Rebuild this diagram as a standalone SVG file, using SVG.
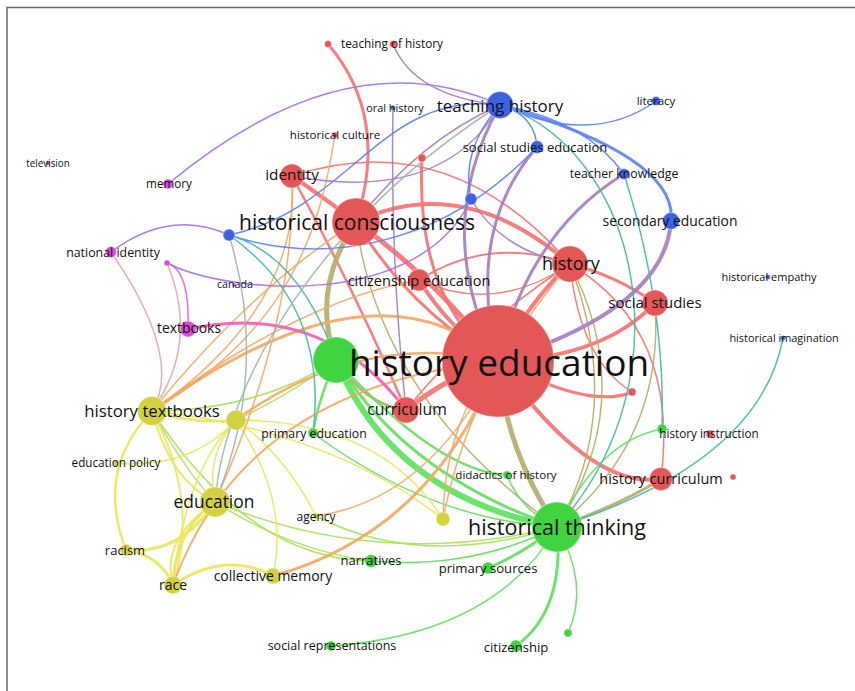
<svg xmlns="http://www.w3.org/2000/svg" width="855" height="691" viewBox="0 0 855 691">
<style>
.e{fill:none;stroke-linecap:round;opacity:0.92}
.r{stroke:#f87272}.o{stroke:#b5ae6c}.g{stroke:#5de35d}.lg{stroke:#a6e35a}.y{stroke:#ebe65a}
.or{stroke:#f5a864}.p{stroke:#a77ebf}.v{stroke:#a36ef5}.b{stroke:#5b82f2}.t{stroke:#45b8a8}
.gr{stroke:#a2b5b0}.pk{stroke:#f35fb3}.sa{stroke:#eda4a4}.m{stroke:#e060f0}
.w1{stroke-width:1.5}.w2{stroke-width:2}.w25{stroke-width:2.5}.w3{stroke-width:3}.w4{stroke-width:4}.w5{stroke-width:5}.w6{stroke-width:6}
.nr{fill:#e45757}.ng{fill:#41d441}.nb{fill:#3d62e0}.ny{fill:#d4d140}.nm{fill:#d64cd6}
circle{stroke:#ffffff;stroke-opacity:0.3;stroke-width:1.5}
text{font-family:"Open Sans","DejaVu Sans",sans-serif;fill:#111;text-anchor:middle}
</style>
<rect width="855" height="691" fill="#ffffff"/>
<path d="M7 691 V7.5 H855" fill="none" stroke="#666" stroke-width="1.5"/>
<g id="connectors">
<path class="e r w3" d="M328 44 Q390 117 356 222"/>
<path class="e r w4" d="M292 176 Q320 195 356 222"/>
<path class="e r w1" d="M292 176 Q449 124 570 264"/>
<path class="e r w25" d="M292 176 Q352 285 406 410"/>
<path class="e r w5" d="M356 222 Q437 280 498 361"/>
<path class="e r w3" d="M356 222 Q410 310 498 361"/>
<path class="e r w4" d="M356 222 Q463 171 570 264"/>
<path class="e r w3" d="M422 158 Q415 300 498 361"/>
<path class="e r w4" d="M570 264 Q530 300 498 361"/>
<path class="e r w3" d="M570 264 Q615 275 655 303"/>
<path class="e r w2" d="M419 280 Q490 235 570 264"/>
<path class="e r w1" d="M419 280 Q495 315 570 264"/>
<path class="e r w4" d="M419 280 Q450 330 498 361"/>
<path class="e r w1" d="M570 264 Q580 360 632 392"/>
<path class="e r w1" d="M570 264 Q680 330 661 479"/>
<path class="e r w4" d="M655 303 Q603 358 498 361"/>
<path class="e r w3" d="M498 361 Q590 410 632 392"/>
<path class="e r w4" d="M498 361 Q590 490 661 479"/>
<path class="e r w5" d="M498 361 Q450 375 406 410"/>
<path class="e r w1" d="M570 264 Q470 330 406 410"/>
<path class="e o w5" d="M356 222 Q310 290 336 360"/>
<path class="e o w5" d="M498 361 Q505 450 557 527"/>
<path class="e o w3" d="M336 360 Q365 405 406 410"/>
<path class="e o w1" d="M356 222 Q380 400 557 527"/>
<path class="e o w1" d="M570 264 Q640 400 557 527"/>
<path class="e o w1" d="M570 264 Q625 410 557 527"/>
<path class="e o w1" d="M655 303 Q665 440 557 527"/>
<path class="e o w3" d="M557 527 Q620 505 661 479"/>
<path class="e g w6" d="M336 360 Q393 497 557 527"/>
<path class="e g w3" d="M336 360 Q405 475 557 527"/>
<path class="e g w25" d="M336 360 Q438 472 507 475"/>
<path class="e g w25" d="M336 360 Q318 400 313 433"/>
<path class="e g w3" d="M557 527 Q520 555 488 568"/>
<path class="e g w3" d="M557 527 Q565 610 516 646"/>
<path class="e g w1" d="M557 527 Q590 585 568 633"/>
<path class="e g w1" d="M557 527 Q496 634 331 646"/>
<path class="e g w1" d="M557 527 Q470 570 371 561"/>
<path class="e g w1" d="M557 527 Q600 440 662 429"/>
<path class="e g w1" d="M507 475 Q520 510 557 527"/>
<path class="e g w1" d="M313 433 Q430 520 557 527"/>
<path class="e lg w1" d="M215 502 Q380 570 557 527"/>
<path class="e lg w1" d="M215 502 Q290 550 371 561"/>
<path class="e lg w1" d="M152 411 Q250 560 371 561"/>
<path class="e lg w1" d="M236 420 Q290 395 336 360"/>
<path class="e lg w1" d="M152 411 Q260 410 336 360"/>
<path class="e lg w1" d="M316 516 Q420 570 557 527"/>
<path class="e lg w1" d="M152 411 Q185 470 215 502"/>
<path class="e y w25" d="M152 411 Q195 425 236 420"/>
<path class="e y w25" d="M152 411 Q95 470 126 550"/>
<path class="e y w2" d="M152 411 Q200 500 173 585"/>
<path class="e y w1" d="M116 463 Q190 470 236 420"/>
<path class="e y w3" d="M215 502 Q180 555 126 550"/>
<path class="e y w3" d="M215 502 Q175 530 173 585"/>
<path class="e y w2" d="M215 502 Q160 540 173 585"/>
<path class="e y w3" d="M126 550 Q160 555 173 585"/>
<path class="e y w3" d="M173 585 Q225 550 273 576"/>
<path class="e y w1" d="M236 420 Q290 500 273 576"/>
<path class="e y w1" d="M215 502 Q205 455 236 420"/>
<path class="e y w1" d="M236 420 Q285 455 316 516"/>
<path class="e y w1" d="M236 420 Q380 420 443 519"/>
<path class="e y w1" d="M173 585 Q185 470 236 420"/>
<path class="e y w1" d="M152 411 Q330 430 443 519"/>
<path class="e y w2" d="M152 411 Q170 480 215 502"/>
<path class="e or w3" d="M152 411 Q375 250 498 361"/>
<path class="e or w25" d="M236 420 Q360 330 498 361"/>
<path class="e or w2" d="M173 585 Q244 387 498 361"/>
<path class="e or w3" d="M273 576 Q434 531 498 361"/>
<path class="e or w1" d="M335 135 C320 230 290 330 152 411"/>
<path class="e or w1" d="M292 176 Q302 306 152 411"/>
<path class="e or w1" d="M292 176 Q296 321 215 502"/>
<path class="e or w1" d="M152 411 Q250 290 356 222"/>
<path class="e or w1" d="M419 280 Q300 300 152 411"/>
<path class="e or w1" d="M316 516 Q430 500 498 361"/>
<path class="e or w1" d="M443 519 Q445 420 498 361"/>
<path class="e or w1" d="M570 264 Q470 380 443 519"/>
<path class="e pk w3" d="M188 329 Q323 300 406 410"/>
<path class="e sa w1" d="M111 252 Q184 358 152 411"/>
<path class="e sa w1" d="M167 263 Q200 343 152 411"/>
<path class="e m w1" d="M167 263 Q190 270 188 329"/>
<path class="e v w1" d="M168 184 Q346 36 500 105"/>
<path class="e v w1" d="M111 252 Q170 208 229 235"/>
<path class="e v w1" d="M167 263 C230 295 420 310 471 199"/>
<path class="e p w1" d="M393 44 Q414 96 500 105"/>
<path class="e p w1" d="M393 108 Q390 260 406 410"/>
<path class="e p w1" d="M292 176 Q444 204 500 105"/>
<path class="e p w3" d="M500 105 Q430 230 498 361"/>
<path class="e p w3" d="M537 147 Q465 230 498 361"/>
<path class="e p w3" d="M624 174 Q529 232 498 361"/>
<path class="e p w4" d="M671 221 Q665 309 498 361"/>
<path class="e p w1" d="M500 105 Q420 140 356 222"/>
<path class="e p w1" d="M471 199 Q500 250 570 264"/>
<path class="e b w3" d="M500 105 Q678 157 671 221"/>
<path class="e b w1" d="M500 105 Q592 147 656 101"/>
<path class="e b w1" d="M500 105 Q585 120 624 174"/>
<path class="e b w1" d="M500 105 Q535 115 537 147"/>
<path class="e b w1" d="M500 105 Q460 150 471 199"/>
<path class="e b w1" d="M229 235 C350 210 380 90 500 105"/>
<path class="e b w1" d="M229 235 C320 265 440 250 537 147"/>
<path class="e t w1" d="M500 105 C640 150 690 380 557 527"/>
<path class="e t w1" d="M624 174 C645 240 665 330 662 429"/>
<path class="e t w1" d="M557 527 Q760 463 783 338"/>
<path class="e t w1" d="M229 235 Q300 255 336 360"/>
<path class="e t w1" d="M229 235 Q329 306 313 433"/>
<path class="e gr w1" d="M215 502 C225 380 320 220 500 105"/>
<path class="e gr w1" d="M229 235 Q270 370 215 502"/>
</g>
<g id="n-dot1"><circle class="nr" cx="328" cy="44" r="3.5"/></g>
<g id="n-teaching-of-history"><circle class="nr" cx="393" cy="44" r="3.5"/><text x="392" y="48" font-size="11.8">teaching of history</text></g>
<g id="n-historical-culture"><circle class="nr" cx="335" cy="135" r="3"/><text x="335" y="139" font-size="11.6">historical culture</text></g>
<g id="n-red-dot2"><circle class="nr" cx="422" cy="158" r="4"/></g>
<g id="n-red-dot3"><circle class="nr" cx="632" cy="392" r="4"/></g>
<g id="n-red-dot4"><circle class="nr" cx="733" cy="477" r="3"/></g>
<g id="n-oral-history"><circle class="nb" cx="393" cy="108" r="2.5"/><text x="395" y="112" font-size="10.9">oral history</text></g>
<g id="n-historical-empathy"><circle class="nb" cx="768" cy="277" r="2.5"/><text x="769" y="281" font-size="11">historical empathy</text></g>
<g id="n-historical-imagination"><circle class="nb" cx="783" cy="338" r="2.5"/><text x="784" y="342" font-size="10.9">historical imagination</text></g>
<g id="n-literacy"><circle class="nb" cx="656" cy="101" r="4.5"/><text x="656" y="105" font-size="11.5">literacy</text></g>
<g id="n-television"><circle class="nm" cx="48" cy="163" r="2.5"/><text x="48" y="167" font-size="9.9">television</text></g>
<g id="n-canada"><circle class="nm" cx="234" cy="285" r="2"/><text x="235" y="288" font-size="10.7">canada</text></g>
<g id="n-magenta-dot"><circle class="nm" cx="167" cy="263" r="3"/></g>
<g id="n-memory"><circle class="nm" cx="168" cy="184" r="5"/><text x="169" y="188" font-size="11.7">memory</text></g>
<g id="n-national-identity"><circle class="nm" cx="111" cy="252" r="5.5"/><text x="113" y="257" font-size="12.4">national identity</text></g>
<g id="n-textbooks"><circle class="nm" cx="188" cy="329" r="8"/><text x="189" y="333" font-size="13.9">textbooks</text></g>
<g id="n-green-dot1"><circle class="ng" cx="568" cy="633" r="4"/></g>
<g id="n-didactics-of-history"><circle class="ng" cx="507" cy="475" r="4"/><text x="506" y="479" font-size="11.6">didactics of history</text></g>
<g id="n-primary-education"><circle class="ng" cx="313" cy="433" r="5"/><text x="314" y="438" font-size="12.3">primary education</text></g>
<g id="n-green-dot2"><circle class="ng" cx="662" cy="429" r="5"/></g>
<g id="n-history-instruction"><circle class="nr" cx="710" cy="434" r="4"/><text x="709" y="438" font-size="11.7">history instruction</text></g>
<g id="n-social-representations"><circle class="ng" cx="331" cy="646" r="5"/><text x="332" y="650" font-size="12.5">social representations</text></g>
<g id="n-narratives"><circle class="ng" cx="371" cy="561" r="6.5"/><text x="371" y="565" font-size="13">narratives</text></g>
<g id="n-primary-sources"><circle class="ng" cx="488" cy="568" r="6"/><text x="488" y="573" font-size="13.1">primary sources</text></g>
<g id="n-citizenship"><circle class="ng" cx="516" cy="646" r="6"/><text x="516" y="652" font-size="13.1">citizenship</text></g>
<g id="n-education-policy"><circle class="ny" cx="116" cy="463" r="3"/><text x="116" y="467" font-size="11.7">education policy</text></g>
<g id="n-agency"><circle class="ny" cx="316" cy="516" r="3"/><text x="316" y="521" font-size="12">agency</text></g>
<g id="n-racism"><circle class="ny" cx="126" cy="550" r="6"/><text x="125" y="555" font-size="13">racism</text></g>
<g id="n-yellow-dot1"><circle class="ny" cx="443" cy="519" r="7"/></g>
<g id="n-collective-memory"><circle class="ny" cx="273" cy="576" r="8"/><text x="273" y="581" font-size="14">collective memory</text></g>
<g id="n-race"><circle class="ny" cx="173" cy="585" r="9"/><text x="173" y="590" font-size="14">race</text></g>
<g id="n-yellow-dot2"><circle class="ny" cx="236" cy="420" r="10"/></g>
<g id="n-history-textbooks"><circle class="ny" cx="152" cy="411" r="14.5"/><text x="152" y="417" font-size="16.8">history textbooks</text></g>
<g id="n-education"><circle class="ny" cx="215" cy="502" r="15"/><text x="214" y="508" font-size="17.4">education</text></g>
<g id="n-blue-dot1"><circle class="nb" cx="229" cy="235" r="6"/></g>
<g id="n-blue-dot2"><circle class="nb" cx="471" cy="199" r="6"/></g>
<g id="n-social-studies-education"><circle class="nb" cx="537" cy="147" r="6.5"/><text x="535" y="152" font-size="13">social studies education</text></g>
<g id="n-teacher-knowledge"><circle class="nb" cx="624" cy="174" r="5.5"/><text x="624" y="178" font-size="12.3">teacher knowledge</text></g>
<g id="n-secondary-education"><circle class="nb" cx="671" cy="221" r="8.5"/><text x="670" y="226" font-size="13.9">secondary education</text></g>
<g id="n-teaching-history"><circle class="nb" cx="500" cy="105" r="13.5"/><text x="500" y="112" font-size="17">teaching history</text></g>
<g id="n-citizenship-education"><circle class="nr" cx="419" cy="280" r="11"/><text x="419" y="286" font-size="14.5">citizenship education</text></g>
<g id="n-history-curriculum"><circle class="nr" cx="661" cy="479" r="11.5"/><text x="661" y="484" font-size="14.5">history curriculum</text></g>
<g id="n-identity"><circle class="nr" cx="292" cy="176" r="12"/><text x="292" y="180" font-size="15.3">identity</text></g>
<g id="n-social-studies"><circle class="nr" cx="655" cy="303" r="13"/><text x="655" y="308" font-size="15">social studies</text></g>
<g id="n-curriculum"><circle class="nr" cx="406" cy="410" r="13"/><text x="407" y="415" font-size="15.8">curriculum</text></g>
<g id="n-history"><circle class="nr" cx="570" cy="264" r="18"/><text x="571" y="270" font-size="18">history</text></g>
<g id="n-historical-consciousness"><circle class="nr" cx="356" cy="222" r="24"/><text x="357" y="230" font-size="21">historical consciousness</text></g>
<g id="n-green-hub"><circle class="ng" cx="336" cy="360" r="23"/></g>
<g id="n-historical-thinking"><circle class="ng" cx="557" cy="527" r="25"/><text x="557" y="535" font-size="21.5">historical thinking</text></g>
<g id="n-history-education"><circle class="nr" cx="498" cy="361" r="56"/><text x="499" y="376" font-size="37">history education</text></g>
</svg>
